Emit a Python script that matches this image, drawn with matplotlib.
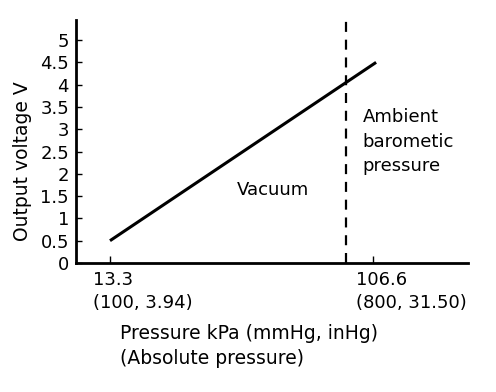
import matplotlib
matplotlib.use("Agg")
import matplotlib.pyplot as plt
import matplotlib.transforms as mtransforms

# data
pressure_kpa = [13.3, 107.7]
output_v = [0.5, 4.5]
ambient_kpa = 97.0

y_ticks = [0, 0.5, 1, 1.5, 2, 2.5, 3, 3.5, 4, 4.5, 5]
y_tick_labels = ["0", "0.5", "1", "1.5", "2", "2.5", "3", "3.5", "4", "4.5", "5"]
x_ticks = [13.3, 106.6]
x_tick_kpa = ["13.3", "106.6"]
x_tick_mmhg_inhg = ["(100, 3.94)", "(800, 31.50)"]

plt.rcParams["font.family"] = ["DejaVu Sans"]
plt.rcParams["font.size"] = 13

fig = plt.figure(figsize=(4.96, 3.92), dpi=100)
ax = fig.add_axes([76 / 496, 1 - 263 / 392, 392 / 496, 243 / 392])

ax.plot(pressure_kpa, output_v, color="black", lw=2.2, solid_capstyle="butt")
ax.axvline(ambient_kpa, color="black", lw=1.6, linestyle=(0, (4.5, 3.5)))

ax.text(58.3, 1.64, "Vacuum", ha="left", va="center", fontsize=13)
ax.text(103.0, 3.47, "Ambient\nbarometic\npressure", ha="left", va="top",
        fontsize=13, linespacing=1.45)

ax.set_xlim(1.24, 140.3)
ax.set_ylim(0, 5.45)

ax.set_yticks(y_ticks, y_tick_labels)
ax.set_xticks(x_ticks, [f"{a}\n{b}" for a, b in zip(x_tick_kpa, x_tick_mmhg_inhg)])
ax.tick_params(axis="y", direction="in", length=4, width=1, pad=5)
ax.tick_params(axis="x", direction="in", length=5, width=1, pad=6)
shift = mtransforms.ScaledTranslation(-17 / 100, 0, fig.dpi_scale_trans)
for lab in ax.get_xticklabels():
    lab.set_horizontalalignment("left")
    lab.set_linespacing(1.35)
    lab.set_transform(lab.get_transform() + shift)

for side in ("top", "right"):
    ax.spines[side].set_visible(False)
ax.spines["left"].set_linewidth(2)
ax.spines["bottom"].set_linewidth(2)

ax.set_xlabel("Pressure kPa (mmHg, inHg)\n(Absolute pressure)", fontsize=13.5,
              ha="left", linespacing=1.45)
ax.xaxis.set_label_coords(44 / 392, -0.25)
ax.set_ylabel("Output voltage V", fontsize=13.5)
ax.yaxis.label.set_va("center")
ax.yaxis.set_label_coords(-54 / 392, 0.42)

fig.savefig("out.png", dpi=100)
